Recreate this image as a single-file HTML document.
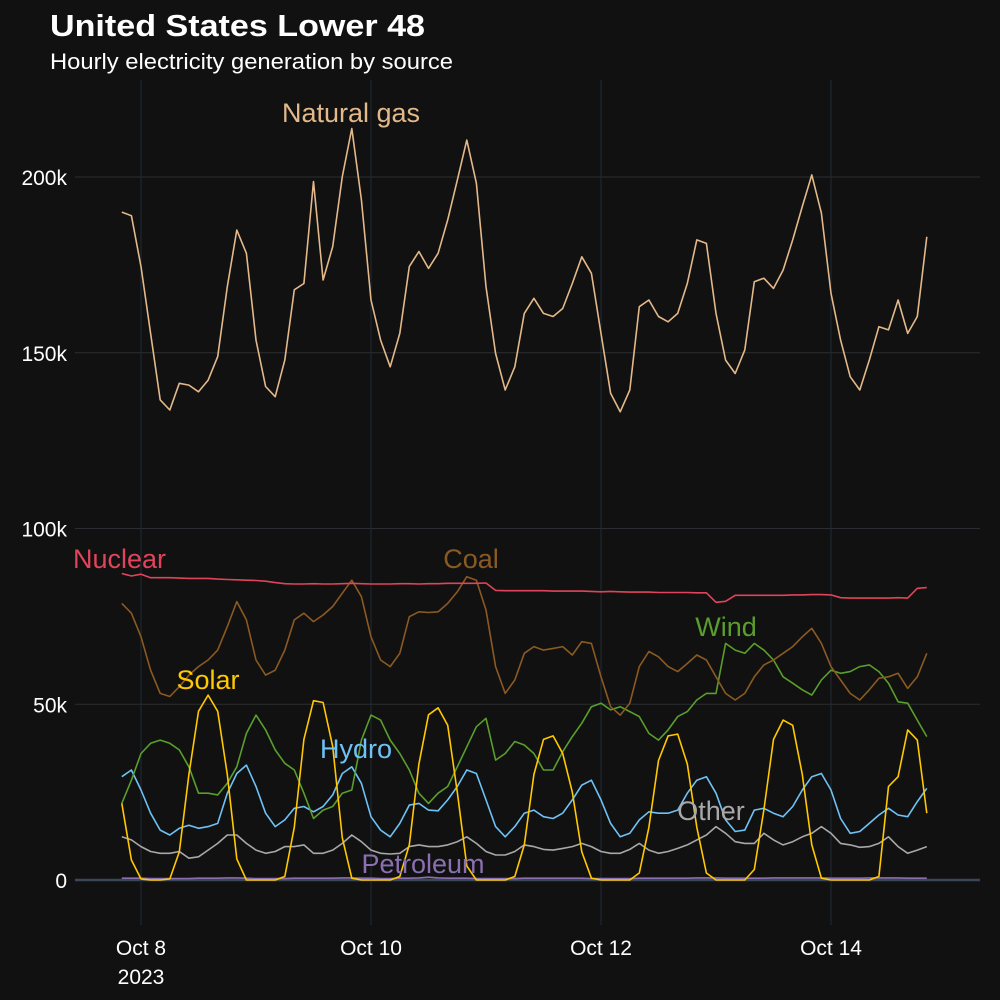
<!DOCTYPE html>
<html><head><meta charset="utf-8"><style>
html,body{margin:0;padding:0;background:#111;}
svg{display:block;font-family:"Liberation Sans",sans-serif;}
</style></head><body>
<svg id="chart" width="1000" height="1000" viewBox="0 0 1000 1000">
<rect width="1000" height="1000" fill="#111111"/>
<text x="50" y="36" fill="#ffffff" font-size="31" font-weight="bold" textLength="375" lengthAdjust="spacingAndGlyphs">United States Lower 48</text>
<text x="50" y="69" fill="#ffffff" font-size="22" textLength="403" lengthAdjust="spacingAndGlyphs">Hourly electricity generation by source</text>
<g id="grid"></g><g id="series"></g><g id="labels"></g>
</svg>
<script>
const yTicks=[0,50,100,150,200];
const yTickLabels=["0","50k","100k","150k","200k"];
const xTickDays=[0,2,4,6];
const xTickLabels=["Oct 8","Oct 10","Oct 12","Oct 14"];
const startHour=-4; const stepHours=2;
const gas=[190,189,174.5,155.5,136.6,133.7,141.3,140.8,138.9,142.2,148.9,168.8,184.9,178.3,153.6,140.4,137.5,147.9,167.9,169.7,198.7,170.7,180.2,200.1,213.8,193.5,165.0,153.6,146.0,155.5,174.5,178.8,174.0,178.3,187.8,199.1,210.5,198.2,168.8,149.8,139.4,146.0,161.2,165.5,161.2,160.3,162.6,169.7,177.3,172.6,155.5,138.5,133.2,139.4,163.1,165.0,160.3,158.8,161.2,169.7,182.1,181.1,161.2,147.9,144.1,150.8,170.2,171.2,168.3,173.5,182.1,191.6,200.6,189.7,166.9,153.6,143.2,139.4,147.9,157.4,156.5,165.0,155.5,160.3,183.0];
const nuclear=[87.2,86.5,87.0,86.0,86.0,86.0,85.9,85.8,85.8,85.8,85.6,85.5,85.4,85.3,85.2,85.0,84.6,84.3,84.2,84.2,84.3,84.2,84.2,84.3,84.4,84.3,84.2,84.2,84.2,84.3,84.3,84.2,84.3,84.3,84.4,84.4,84.4,84.4,84.5,82.4,82.3,82.3,82.3,82.3,82.3,82.2,82.2,82.2,82.2,82.1,82.0,82.1,82.0,81.9,81.9,81.9,81.8,81.8,81.8,81.8,81.7,81.7,79.0,79.3,81.0,81.0,81.0,81.0,81.0,81.0,81.1,81.1,81.2,81.2,81.1,80.3,80.2,80.2,80.2,80.2,80.2,80.3,80.2,83.0,83.2];
const coal=[78.7,75.9,69.2,59.7,53.1,52.2,55.0,58.3,60.7,62.6,65.4,72.1,79.2,74.0,62.6,58.3,59.7,65.4,74.0,75.9,73.5,75.4,77.8,81.6,85.3,80.6,69.2,62.6,60.7,64.5,74.9,76.3,76.1,76.3,78.7,82.0,86.3,85.3,76.8,60.7,53.1,56.9,64.5,66.4,65.4,65.9,66.4,64.0,67.8,67.3,57.8,49.3,46.9,50.3,60.7,65.0,63.5,60.7,59.3,61.6,64.0,62.6,57.8,53.1,51.2,53.1,57.8,61.2,62.6,64.5,66.4,69.2,71.6,67.3,60.7,56.9,53.1,51.2,54.1,57.4,57.8,58.8,54.5,57.8,64.5];
const wind=[21.8,28.4,36.0,38.9,39.8,38.9,37.0,32.2,24.7,24.7,24.2,27.5,32.2,41.7,46.9,42.7,37.0,33.2,31.3,24.7,17.5,19.9,20.9,24.7,25.6,39.8,46.9,45.5,39.8,36.0,31.3,24.7,21.8,24.7,26.6,32.2,37.9,43.6,46.0,34.1,36.0,39.4,38.4,36.0,31.3,31.3,36.5,40.8,44.6,49.3,50.3,48.4,49.3,47.9,46.5,41.7,39.8,42.7,46.5,47.9,51.2,53.1,53.1,67.3,65.4,64.5,67.3,65.4,62.6,57.8,56.0,54.1,52.6,56.9,59.7,58.8,59.3,60.7,61.2,59.3,56.0,50.7,50.3,45.5,40.8];
const solar=[21.8,5.7,0.3,0,0,0.3,8,30,48,52.6,48,30,6,0,0,0,0,1,15,40,51,50.5,38,12,0.5,0,0,0,0,1,10,33,47,49,44,25,4,0,0,0,0,1,10,30,40,41,36,25,8,0.5,0,0,0,0,2,15,34,41,41.5,33,15,2,0,0,0,0,3,20,40,45.5,44,30,10,0.5,0,0,0,0,0,1,26.6,29.4,42.7,39.8,19.0];
const hydro=[29.4,31.3,25.6,19.0,14.2,12.8,14.7,15.6,14.7,15.2,16.1,24.7,30.3,32.7,26.6,19.0,15.2,17.1,20.4,20.9,19.4,20.9,24.2,30.3,32.2,27.5,18.0,14.2,12.3,16.1,21.3,21.8,19.9,19.7,22.8,26.6,31.3,30.3,22.8,15.2,12.3,15.2,19.0,19.9,18.0,17.5,19.0,22.8,27.0,28.4,22.8,16.1,12.3,13.3,17.1,19.4,19.0,19.0,19.9,24.7,28.4,29.4,24.7,17.1,13.8,14.2,19.9,20.4,19.0,18.0,20.9,25.6,29.4,30.3,25.6,17.5,13.3,13.8,16.1,18.5,20.4,18.5,18.0,22.3,26.1];
const other=[12.3,11.4,9.5,8.1,7.6,7.6,8.1,6.2,6.6,8.5,10.4,12.8,12.8,10.4,8.5,7.6,8.1,9.5,9.5,10.0,7.6,7.6,8.5,10.4,12.8,10.9,8.5,7.6,7.4,7.6,9.5,10.0,9.5,9.5,10.0,10.9,12.3,10.4,8.1,7.1,7.1,8.1,10.0,9.5,8.7,8.5,9.0,9.5,10.4,9.5,8.1,7.6,7.6,8.7,10.4,8.5,7.6,8.1,9.0,10.0,11.4,12.8,15.2,13.3,10.9,10.4,10.4,13.3,11.4,10.0,10.9,12.3,13.3,15.2,13.3,10.4,10.0,9.3,9.5,10.4,12.3,9.5,7.6,8.5,9.5];
const petroleum=[0.5,0.5,0.5,0.4,0.4,0.4,0.4,0.4,0.5,0.5,0.5,0.6,0.6,0.5,0.4,0.4,0.4,0.4,0.5,0.5,0.5,0.5,0.5,0.6,0.6,0.5,0.5,0.4,0.4,0.5,0.5,0.6,0.8,0.6,0.5,0.5,0.5,0.4,0.4,0.4,0.4,0.4,0.5,0.5,0.5,0.5,0.5,0.5,0.5,0.4,0.4,0.4,0.4,0.4,0.5,0.5,0.5,0.5,0.5,0.5,0.6,0.6,0.6,0.5,0.5,0.5,0.5,0.5,0.6,0.6,0.6,0.6,0.6,0.6,0.5,0.5,0.5,0.5,0.6,0.6,0.6,0.6,0.5,0.5,0.5];

const NS="http://www.w3.org/2000/svg";
function yS(v){return 880-v*3.515;}
function xS(h){return 141+h*115/24;}
function mk(tag,attrs,parent){const e=document.createElementNS(NS,tag);for(const k in attrs)e.setAttribute(k,attrs[k]);parent.appendChild(e);return e;}
const grid=document.getElementById('grid');
yTicks.forEach((t,i)=>{
  const l=mk('line',{x1:75,x2:980,y1:yS(t),y2:yS(t),stroke:t===0?'#3a4756':'#2a2d31','stroke-width':t===0?2.5:1},grid);
  
  
  const tx=mk('text',{x:67,y:yS(t)+8,fill:'#fff','font-size':21,'text-anchor':'end'},grid);
  tx.textContent=yTickLabels[i];
  
  
});
xTickDays.forEach((d,i)=>{
  const x=xS(d*24);
  const l=mk('line',{x1:x,x2:x,y1:80,y2:925,stroke:'#1f2a36','stroke-width':1},grid);
  
  
  const tx=mk('text',{x:x,y:955,fill:'#fff','font-size':21,'text-anchor':'middle'},grid);
  tx.textContent=xTickLabels[i];
  
  
});
const yr=mk('text',{x:xS(0),y:984,fill:'#fff','font-size':21,'text-anchor':'middle'},grid);
yr.textContent="2023";



const ser=document.getElementById('series');
function draw(arr,color,name){
  const pts=arr.map((v,i)=>xS(startHour+i*stepHours).toFixed(1)+','+yS(v).toFixed(1)).join(' ');
  const p=mk('polyline',{points:pts,fill:'none',stroke:color,'stroke-width':1.6,'stroke-linejoin':'round'},ser);
  
  
}
draw(petroleum,'#8a70b0','petroleum-line');
draw(other,'#a8a8a8','other-line');
draw(hydro,'#6ec2f5','hydro-line');
draw(wind,'#5a9e2c','wind-line');
draw(coal,'#8b5a22','coal-line');
draw(nuclear,'#e0445a','nuclear-line');
draw(gas,'#e3b98a','natural-gas-line');
draw(solar,'#ffc800','solar-line');

const lab=document.getElementById('labels');
function label(txt,x,y,color,name,anchor){
  const t=mk('text',{x:x,y:y,fill:color,'font-size':27,'text-anchor':anchor||'middle'},lab);
  t.textContent=txt;
  
  
}
label('Natural gas',351,122,'#e3b98a','natural-gas-label');
label('Nuclear',73,568,'#e0445a','nuclear-label','start');
label('Coal',471,568,'#8b5a22','coal-label');
label('Wind',726,636,'#5a9e2c','wind-label');
label('Solar',208,689,'#ffc800','solar-label');
label('Hydro',356,758,'#6ec2f5','hydro-label');
label('Other',711,820,'#a8a8a8','other-label');
label('Petroleum',423,873,'#8a70b0','petroleum-label');
</script>
</body></html>
